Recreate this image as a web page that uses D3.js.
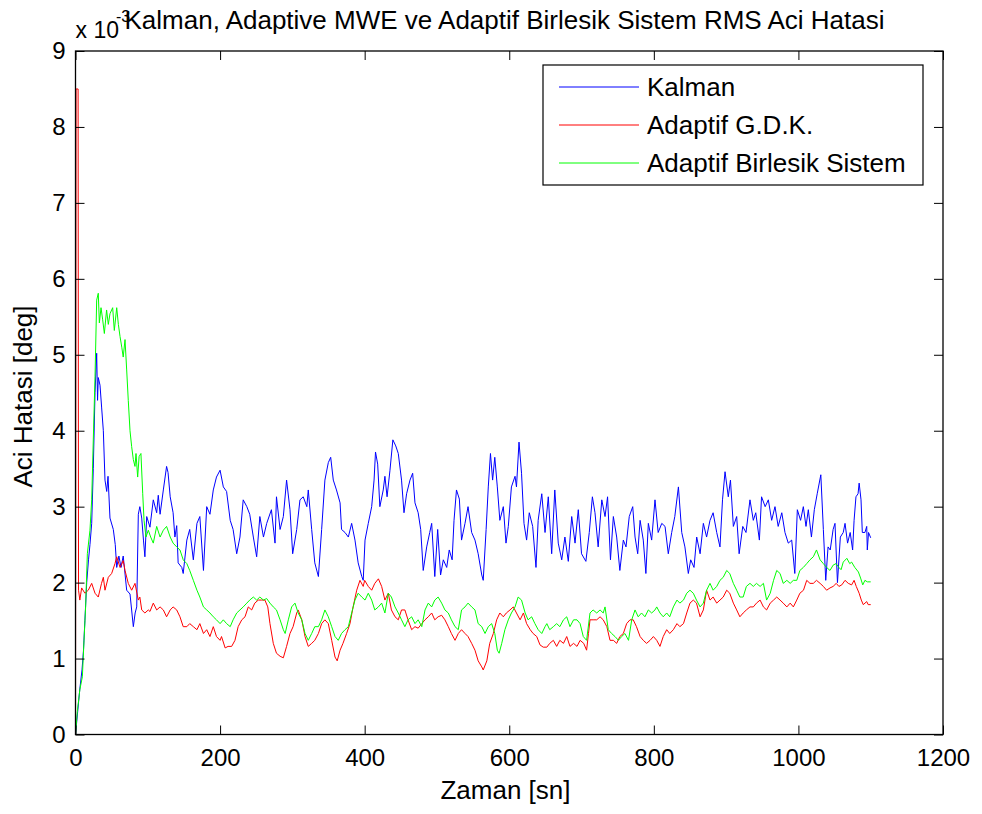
<!DOCTYPE html>
<html>
<head>
<meta charset="utf-8">
<script src="https://cdn.jsdelivr.net/npm/d3@7"></script>
<style>
  html, body { margin: 0; padding: 0; background: #fff; }
  svg { display: block; font-family: "Liberation Sans", Arial, Helvetica, sans-serif; }
</style>
</head>
<body>
<svg id="chart" width="982" height="814"></svg>
<script>
// RMS angle error (units of 1e-3 deg) versus time [s], as [t, value] pairs
const kalman = [[0,0],[3,0.3],[6,0.6],[9,0.85],[11,1.1],[13,1.5],[15.5,2.0],[18,2.3],[20,2.5],[22.4,2.78],[24.6,3.5],[27,4.5],[29.3,5.02],[30.5,4.4],[31.5,4.7],[33.9,4.6],[36.2,4.3],[38.5,4.0],[40.8,3.35],[43.2,3.2],[45,3.4],[47.7,2.85],[52.3,2.7],[55,2.5],[57,2.2],[60,2.35],[63,2.2],[66,2.35],[70.8,1.9],[75.4,1.85],[80,1.42],[82.5,1.6],[84.7,1.68],[86.9,2.9],[89,3.0],[91.6,2.85],[94,2.56],[96,2.34],[98.5,2.87],[103,2.73],[107.6,3.09],[112.3,2.92],[114.5,3.15],[117,2.9],[121.5,3.22],[126,3.53],[128,3.45],[131,3.13],[135,2.92],[137.5,2.6],[140,2.75],[142,2.26],[147,2.2],[149,2.12],[154,2.56],[158,2.7],[163,2.3],[168,2.78],[172,2.87],[177,2.16],[181.5,3.0],[186,2.9],[190.6,3.22],[195,3.39],[200,3.48],[204.5,3.26],[209,3.2],[214,2.82],[218,2.7],[223,2.38],[227.5,2.6],[232,3.09],[237,3.0],[241,2.9],[246,2.6],[250.6,2.34],[255,2.87],[260,2.6],[264.5,2.78],[271,2.96],[276,2.52],[278,3.13],[283,2.7],[287.5,2.87],[292,3.35],[296.7,2.96],[300.4,2.38],[306,2.7],[310.5,3.09],[315,3.13],[320,3.0],[322,3.22],[326.7,2.7],[331,2.26],[336,2.08],[340.5,2.7],[345,3.35],[349.7,3.58],[353,3.65],[356.6,3.35],[361,3.22],[366,3.05],[368,2.7],[372.8,2.66],[377.4,2.6],[382,2.78],[386.6,2.56],[391,2.26],[396,2.08],[398,2.03],[400.5,2.56],[405,2.78],[409.7,3.0],[413,3.35],[415,3.72],[418,3.56],[421,3.0],[425.7,3.22],[428,3.4],[431,3.13],[435,3.48],[439,3.88],[443,3.8],[446.5,3.7],[451,3.35],[454.4,2.92],[458,3.17],[462.7,3.35],[466.4,3.44],[469.6,3.05],[474,2.92],[477.5,2.7],[481,2.16],[485.8,2.47],[490,2.66],[492.7,2.78],[497,2.08],[501,2.7],[505,2.1],[508.8,2.3],[513.5,2.2],[517,2.43],[521,2.3],[523.6,2.82],[527,3.22],[531,3.1],[534,2.56],[538.8,2.78],[543,3.0],[548,2.66],[552.6,2.56],[557,2.38],[562,2.1],[564,2.03],[568,2.7],[571,3.26],[574,3.7],[577,3.35],[580,3.65],[583.5,3.26],[587,2.82],[591.8,3.0],[595.5,2.52],[598.7,2.74],[603,3.26],[608,3.4],[610,3.26],[613.5,3.85],[617,3.44],[620.4,2.78],[624,2.56],[627.7,2.92],[632.4,2.74],[637,2.2],[640,2.82],[645,3.17],[649.5,2.66],[654,3.13],[658.7,2.38],[663,3.22],[667.8,2.52],[672.6,2.3],[677,2.6],[681.7,2.28],[686.4,2.87],[691,2.52],[695.5,2.96],[700,2.38],[706,2.28],[710.7,2.66],[715,3.13],[718.6,2.92],[723,2.47],[728,3.09],[732.5,2.87],[736,3.13],[740,2.3],[744,2.87],[748.6,2.6],[753,2.16],[757.8,2.56],[761.5,2.47],[766,2.87],[770.8,3.0],[774,2.6],[777.7,2.38],[781,2.82],[785.4,2.56],[789,2.12],[792.4,2.78],[797,2.56],[801.6,3.09],[806,2.66],[811,2.78],[815.5,2.74],[820,2.38],[824.7,2.66],[829,2.87],[834,3.26],[838.6,2.66],[843,2.47],[847.7,2.12],[851,2.3],[855.6,2.2],[859.3,2.6],[864,2.38],[868.5,2.78],[873,2.6],[877.7,2.82],[882,2.92],[887,2.66],[891.5,2.47],[895,3.09],[898.5,3.46],[903,3.13],[906,3.35],[910,2.74],[914.6,2.87],[918,2.38],[923,2.74],[927.5,2.66],[933,3.09],[937.6,2.82],[941,2.92],[946,2.56],[949,3.13],[954,3.0],[958.4,3.09],[963,2.82],[967.6,3.0],[972,2.74],[977,2.92],[981.4,2.66],[986,2.52],[990.7,2.56],[995,2.12],[998.5,2.96],[1003,2.82],[1006.8,3.0],[1010.5,2.74],[1013.7,2.96],[1018,2.6],[1022,2.96],[1026,3.17],[1031,3.42],[1034.5,2.7],[1037.8,2.03],[1041,2.47],[1044,2.43],[1048,2.7],[1050.6,2.78],[1054,2.0],[1058,2.6],[1062,2.66],[1064.5,2.78],[1068,2.52],[1071.6,2.66],[1075,2.43],[1077,2.82],[1079.6,3.13],[1082.5,3.17],[1084,3.31],[1086.6,3.09],[1088.4,2.66],[1092,2.66],[1094.5,2.74],[1095.3,2.43],[1097,2.66],[1100,2.59]];

const adaptifGDK = [[0,0],[0.8,8.5],[3.6,8.5],[4.2,1.9],[6,1.77],[8.5,1.93],[13,1.86],[17.7,1.9],[22.4,1.99],[27,1.86],[31.5,1.81],[36,1.99],[38.5,2.07],[40.8,1.9],[45.4,2.07],[50,2.12],[54.6,2.25],[57,2.34],[61.6,2.2],[66,2.29],[68.5,2.16],[73,1.99],[77.7,1.9],[82.3,1.99],[86.9,1.77],[89,1.81],[91.6,1.64],[96,1.6],[100.7,1.64],[103,1.62],[107.6,1.73],[112.3,1.64],[117,1.68],[121.5,1.64],[126,1.55],[131,1.64],[135,1.68],[140,1.64],[144.5,1.55],[149,1.42],[154,1.42],[158,1.46],[163,1.42],[168,1.38],[172,1.46],[177,1.33],[181.5,1.38],[186,1.29],[190.6,1.42],[195,1.29],[200,1.24],[202,1.29],[207,1.14],[211,1.16],[216,1.16],[220.6,1.24],[225,1.42],[230,1.51],[234.5,1.55],[239,1.68],[243.7,1.64],[248,1.73],[252.8,1.77],[257.6,1.77],[262,1.77],[266,1.68],[269,1.46],[273.6,1.2],[278,1.07],[283,1.03],[287.5,1.01],[292,1.16],[296.7,1.33],[301,1.42],[306,1.6],[308,1.64],[313,1.51],[317.5,1.29],[322,1.16],[326.7,1.2],[331,1.24],[336,1.33],[340.5,1.46],[345,1.51],[349.7,1.46],[354.4,1.24],[359,1.02],[362,0.97],[366,1.11],[370,1.2],[375,1.33],[379.7,1.46],[384,1.68],[389,1.9],[393.5,2.03],[398,1.95],[400,2.03],[405,1.95],[409.7,1.9],[414,1.99],[419,2.05],[423.5,1.95],[428,1.77],[432.7,1.86],[437,1.64],[442,1.55],[446.5,1.51],[451,1.64],[455.6,1.64],[460,1.51],[465,1.38],[469.6,1.42],[474,1.4],[479,1.46],[483.5,1.51],[488,1.55],[492.7,1.6],[497,1.51],[501.6,1.55],[506.5,1.57],[511,1.51],[515.7,1.42],[520,1.33],[525,1.24],[529.5,1.33],[534,1.38],[538.8,1.33],[543,1.29],[548,1.2],[552.6,1.11],[557,0.97],[562,0.89],[564,0.85],[569,0.97],[573,1.2],[578,1.33],[582.6,1.51],[587,1.6],[591.8,1.55],[596,1.6],[601,1.64],[605.6,1.68],[610,1.6],[615,1.51],[619.6,1.6],[624,1.46],[629,1.38],[633,1.33],[638,1.29],[642.5,1.18],[647,1.15],[652,1.15],[656,1.2],[661,1.24],[665.6,1.16],[670,1.24],[675,1.2],[679.5,1.29],[684,1.16],[689,1.2],[693.7,1.16],[698,1.24],[703,1.2],[707,1.11],[709.6,1.33],[711.7,1.51],[716,1.51],[721,1.51],[725.6,1.55],[730,1.51],[735,1.42],[739.4,1.24],[744,1.24],[748.6,1.2],[753,1.29],[757.8,1.33],[762.4,1.46],[767,1.51],[771.5,1.51],[776,1.42],[781,1.29],[785.4,1.24],[790,1.2],[794.8,1.24],[799.4,1.29],[804,1.24],[808.5,1.16],[813,1.29],[817.8,1.38],[822,1.33],[827,1.38],[832,1.46],[836,1.42],[841,1.46],[845.5,1.6],[850,1.73],[854.6,1.77],[859,1.73],[864,1.55],[868.5,1.64],[873,1.9],[877.7,1.77],[882,1.81],[887,1.73],[891.5,1.77],[896,1.81],[900.8,1.9],[905,1.86],[910,1.73],[914.6,1.64],[919,1.55],[923.6,1.6],[928,1.64],[933,1.68],[937.6,1.68],[942,1.73],[947,1.77],[951.6,1.68],[956,1.64],[961,1.73],[965.6,1.77],[970,1.81],[974.6,1.77],[979,1.73],[984,1.68],[988.6,1.73],[993,1.68],[997.7,1.77],[1002,1.86],[1007,1.9],[1011.5,2.03],[1016,1.99],[1020.6,1.99],[1025,2.03],[1030,1.99],[1034.5,1.95],[1039,1.9],[1043.7,1.93],[1048,1.95],[1052.3,1.99],[1056,1.95],[1060,1.97],[1064.5,2.03],[1069,1.99],[1073.6,1.97],[1077,2.03],[1080,1.95],[1084,1.86],[1087,1.77],[1089.7,1.71],[1094.5,1.75],[1096.5,1.71],[1100,1.71]];

const birlesikSistem = [[0,0],[2.5,0.3],[6,0.59],[9.5,0.76],[11.8,1.24],[14,1.68],[16.4,2.38],[20,2.69],[22.4,3.09],[24.6,3.88],[27,4.71],[29.3,5.72],[31.5,5.81],[33,5.42],[35.3,5.62],[37.6,5.46],[39.9,5.28],[43,5.59],[45.4,5.4],[47.7,5.54],[51.4,5.62],[53.7,5.32],[57,5.62],[59.3,5.4],[61.6,5.24],[64,5.1],[66,4.97],[68.5,5.2],[70.8,4.8],[73,4.4],[75.4,4.0],[77.7,3.79],[80,3.62],[82.3,3.53],[83.7,3.7],[86,3.39],[88,3.66],[90.5,3.7],[93,3.17],[94.8,2.82],[97.5,2.6],[100.7,2.69],[104,2.6],[107.6,2.52],[112.3,2.74],[117,2.6],[121.5,2.69],[126,2.74],[131,2.6],[135,2.52],[140,2.47],[144.5,2.43],[149,2.3],[154,2.25],[158,2.16],[163,2.03],[168,1.9],[172,1.81],[177,1.68],[181.5,1.64],[186,1.6],[190.6,1.55],[195,1.51],[200,1.46],[204.5,1.51],[209,1.46],[214,1.42],[218,1.51],[223,1.6],[227.5,1.64],[232,1.68],[237,1.73],[241,1.77],[246,1.81],[250.6,1.77],[255,1.81],[260,1.77],[264.5,1.79],[269,1.73],[273.6,1.68],[278,1.64],[283,1.51],[287.5,1.38],[290,1.33],[294.4,1.51],[299,1.68],[303.6,1.73],[308,1.6],[313,1.51],[317.5,1.33],[322,1.24],[326.7,1.33],[331,1.42],[336,1.42],[340.5,1.51],[345,1.64],[349.7,1.55],[354.4,1.42],[359,1.29],[363.5,1.24],[368,1.33],[372.8,1.38],[377.4,1.42],[382,1.6],[386.6,1.77],[391,1.86],[396,1.81],[400.5,1.77],[405,1.86],[409.7,1.77],[414,1.64],[419,1.68],[423.5,1.73],[428,1.6],[432.7,1.86],[437,1.81],[442,1.68],[446.5,1.6],[451,1.51],[455.6,1.42],[460,1.51],[465,1.55],[469.6,1.46],[474,1.51],[479,1.42],[483.5,1.64],[488,1.73],[492.7,1.68],[497,1.77],[501.6,1.81],[506.5,1.73],[511,1.64],[515.7,1.6],[520,1.51],[525,1.42],[529.5,1.38],[534,1.64],[538.8,1.68],[543,1.73],[548,1.68],[552.6,1.64],[557,1.46],[562,1.42],[566.5,1.33],[571,1.42],[575.7,1.46],[580,1.33],[583.5,1.11],[586,1.07],[589.6,1.2],[594,1.38],[598.7,1.51],[603,1.6],[608,1.68],[612.3,1.81],[617,1.77],[622,1.6],[626,1.51],[631,1.55],[635.5,1.46],[640,1.38],[645,1.33],[649.5,1.42],[652,1.46],[656,1.38],[661,1.42],[665.6,1.46],[670,1.42],[675,1.51],[679.5,1.55],[684,1.42],[689,1.51],[693.7,1.51],[698,1.46],[702.4,1.29],[707,1.24],[711.7,1.6],[716,1.64],[721,1.6],[725.6,1.64],[730,1.6],[732.5,1.68],[737,1.38],[741.6,1.33],[746.3,1.29],[751,1.24],[755.5,1.29],[760,1.33],[765,1.24],[769.4,1.51],[774,1.64],[778.4,1.55],[783,1.6],[787.7,1.55],[792.4,1.64],[797,1.6],[801.6,1.64],[804,1.68],[808.5,1.6],[813,1.55],[817.8,1.6],[822,1.55],[827,1.68],[832,1.77],[836,1.73],[841,1.77],[845.5,1.86],[850,1.9],[854.6,1.86],[859,1.77],[864,1.68],[868.5,1.73],[873,1.9],[877.7,1.99],[882,1.9],[887,1.95],[891.5,2.03],[896,2.07],[900.8,2.16],[905,2.12],[910,1.99],[914.6,1.9],[919,1.81],[923.6,1.81],[928,1.95],[933,1.99],[937.6,1.95],[942,1.99],[947,1.95],[951.6,1.99],[956,1.77],[961,1.86],[965.6,2.03],[970,2.16],[974.6,2.12],[979,1.99],[984,2.03],[988.6,1.99],[993,2.03],[997.7,2.03],[1002,2.16],[1006.8,2.2],[1011.5,2.25],[1016,2.3],[1020.6,2.34],[1025,2.43],[1030,2.3],[1034.5,2.25],[1039,2.2],[1043.7,2.16],[1048,2.23],[1052,2.25],[1056,2.2],[1059,2.17],[1062,2.27],[1067,2.32],[1071,2.25],[1073.6,2.27],[1078,2.2],[1083,2.14],[1086,2.06],[1089,1.97],[1092,2.03],[1095.3,2.01],[1100,2.01]];

const seriesNames = ["Kalman", "Adaptif G.D.K.", "Adaptif Birlesik Sistem"];
const seriesColors = ["#0000ff", "#ff0000", "#00ff00"];
const xTicks = [0, 200, 400, 600, 800, 1000, 1200];
const yTicks = [0, 1, 2, 3, 4, 5, 6, 7, 8, 9];

const titleText = "Kalman, Adaptive MWE ve Adaptif Birlesik Sistem RMS Aci Hatasi";
const xLabel = "Zaman [sn]";
const yLabel = "Aci Hatasi [deg]";

const svg = d3.select("#chart");
const plot = { left: 75.5, right: 943, top: 51, bottom: 734.5 };
const tickFont = 24;
const labelFont = 26;

const x = d3.scaleLinear().domain([0, 1200]).range([plot.left, plot.right]);
const y = d3.scaleLinear().domain([0, 9]).range([plot.bottom, plot.top]);

// Data lines (drawn first, axes box on top)
const line = d3.line().x(d => x(d[0])).y(d => y(d[1]));
const allSeries = [kalman, adaptifGDK, birlesikSistem];
allSeries.forEach((s, i) => {
  svg.append("path")
    .datum(s)
    .attr("d", line)
    .attr("fill", "none")
    .attr("stroke", seriesColors[i])
    .attr("stroke-width", 1)
    .attr("stroke-linejoin", "miter");
});

// Axes: ticks point inward on all four sides
const tickLen = 9;
function styleAxis(g) {
  g.selectAll(".domain").remove();
  g.selectAll(".tick line").attr("stroke", "#000").attr("stroke-width", 1);
  g.selectAll(".tick text").attr("font-size", tickFont).attr("fill", "#000")
    .attr("font-family", "'Liberation Sans', Arial, sans-serif");
}

svg.append("g").attr("transform", `translate(0,${plot.bottom})`)
  .call(d3.axisBottom(x).tickValues(xTicks).tickFormat(d3.format("d"))
    .tickSizeInner(-tickLen).tickSizeOuter(0).tickPadding(14))
  .call(styleAxis);

svg.append("g").attr("transform", `translate(0,${plot.top})`)
  .call(d3.axisTop(x).tickValues(xTicks).tickFormat("")
    .tickSizeInner(-tickLen).tickSizeOuter(0))
  .call(styleAxis);

svg.append("g").attr("transform", `translate(${plot.left},0)`)
  .call(d3.axisLeft(y).tickValues(yTicks).tickFormat(d3.format("d"))
    .tickSizeInner(-tickLen).tickSizeOuter(0).tickPadding(10))
  .call(styleAxis);

svg.append("g").attr("transform", `translate(${plot.right},0)`)
  .call(d3.axisRight(y).tickValues(yTicks).tickFormat("")
    .tickSizeInner(-tickLen).tickSizeOuter(0))
  .call(styleAxis);

// Axes box
svg.append("rect")
  .attr("x", plot.left).attr("y", plot.top)
  .attr("width", plot.right - plot.left).attr("height", plot.bottom - plot.top)
  .attr("fill", "none").attr("stroke", "#000").attr("stroke-width", 1.3);

// Exponent marker for the y axis
svg.append("text")
  .attr("x", plot.left).attr("y", 38)
  .attr("font-size", 23).attr("fill", "#000")
  .text("x 10");
svg.append("text")
  .attr("x", 116).attr("y", 22)
  .attr("font-size", 16).attr("fill", "#000")
  .text("-3");

// Title
svg.append("text")
  .attr("x", 504.5).attr("y", 29)
  .attr("text-anchor", "middle")
  .attr("font-size", labelFont).attr("fill", "#000")
  .text(titleText);

// Axis labels
svg.append("text")
  .attr("x", 505.5).attr("y", 799)
  .attr("text-anchor", "middle")
  .attr("font-size", labelFont).attr("fill", "#000")
  .text(xLabel);

svg.append("text")
  .attr("transform", "translate(32,396.5) rotate(-90)")
  .attr("text-anchor", "middle")
  .attr("font-size", labelFont).attr("fill", "#000")
  .text(yLabel);

// Legend
const legend = svg.append("g").attr("transform", "translate(543,65)");
legend.append("rect")
  .attr("width", 380).attr("height", 120)
  .attr("fill", "#fff").attr("stroke", "#000").attr("stroke-width", 1.2);
const rowY = [22, 60, 98];
seriesNames.forEach((name, i) => {
  legend.append("line")
    .attr("x1", 16).attr("x2", 96)
    .attr("y1", rowY[i]).attr("y2", rowY[i])
    .attr("stroke", seriesColors[i]).attr("stroke-width", 1);
  legend.append("text")
    .attr("x", 104).attr("y", rowY[i])
    .attr("dy", "0.35em")
    .attr("font-size", labelFont).attr("fill", "#000")
    .text(name);
});
</script>
</body>
</html>
